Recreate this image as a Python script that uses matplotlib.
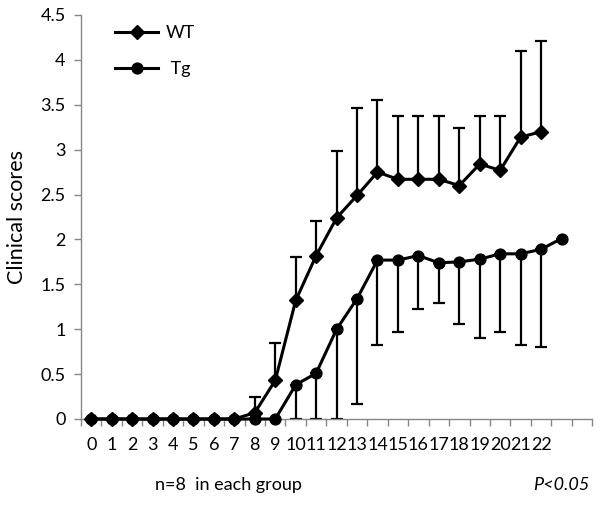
import numpy as np
import matplotlib
matplotlib.use("Agg")
from matplotlib import pyplot as plt

plt.rcParams['font.family'] = ['Lato', 'DejaVu Sans']

# days after immunisation (labels only to 22, Tg has one extra point)
days = list(range(23))
n_slots = 25

wt = [0, 0, 0, 0, 0, 0, 0, 0, 0.07, 0.43, 1.32, 1.82, 2.24, 2.49, 2.75,
      2.67, 2.67, 2.67, 2.60, 2.84, 2.77, 3.14, 3.20]
wt_top = [0, 0, 0, 0, 0, 0, 0, 0, 0.25, 0.85, 1.81, 2.21, 2.99, 3.46, 3.55,
          3.37, 3.37, 3.37, 3.24, 3.37, 3.37, 4.10, 4.21]

tg = [0, 0, 0, 0, 0, 0, 0, 0, 0, 0, 0.38, 0.51, 1.00, 1.34, 1.77, 1.77,
      1.82, 1.74, 1.75, 1.78, 1.84, 1.84, 1.89, 2.01]
tg_low = [0, 0, 0, 0, 0, 0, 0, 0, 0, 0, 0, 0, 0, 0.17, 0.82, 0.97,
          1.23, 1.29, 1.06, 0.90, 0.97, 0.82, 0.80, 2.01]

wt = np.array(wt)
tg = np.array(tg)
x_wt = np.arange(len(wt))
x_tg = np.arange(len(tg))

fig = plt.figure(figsize=(6, 5.05), dpi=100)
ax = fig.add_axes([0.135, 0.1703, 0.852, 0.80])

up = np.array(wt_top) - wt
ax.errorbar(x_wt, wt, yerr=[np.zeros_like(up), up], fmt='none', ecolor='black',
            elinewidth=1.6, capsize=4, capthick=1.6, zorder=2)
down = tg - np.array(tg_low)
ax.errorbar(x_tg, tg, yerr=[down, np.zeros_like(down)], fmt='none', ecolor='black',
            elinewidth=1.6, capsize=4, capthick=1.6, zorder=2)

ax.plot(x_wt, wt, color='black', lw=2.2, marker='D', ms=7.2, label='WT', zorder=3, clip_on=False)
ax.plot(x_tg, tg, color='black', lw=2.2, marker='o', ms=7.8, label=' Tg', zorder=3, clip_on=False)

ax.set_xlim(-0.5, n_slots - 0.5)
ax.set_ylim(0, 4.5)
ax.set_yticks(np.arange(0, 4.51, 0.5))
ax.set_yticklabels(['0', '0.5', '1', '1.5', '2', '2.5', '3', '3.5', '4', '4.5'])
ax.set_xticks(days)
ax.set_xticklabels([str(d) for d in days])
ax.set_xticks(np.arange(-0.5, n_slots, 1), minor=True)
ax.tick_params(axis='x', which='major', length=0, pad=13, labelsize=13)
ax.tick_params(axis='x', which='minor', length=5, color='#868686', width=1)
ax.tick_params(axis='y', length=5, color='#868686', width=1, labelsize=13, pad=6)

for s in ['top', 'right']:
    ax.spines[s].set_visible(False)
for s in ['left', 'bottom']:
    ax.spines[s].set_color('#868686')
    ax.spines[s].set_linewidth(1)

ax.set_ylabel('Clinical scores', fontsize=15.5, labelpad=10)

leg = ax.legend(loc='upper left', bbox_to_anchor=(0.035, 1.015), frameon=False,
                fontsize=13, handlelength=2.4, handletextpad=0.4, labelspacing=1.1)

fig.text(0.258, 0.03, 'n=8  in each group', fontsize=13)
fig.text(0.982, 0.03, 'P<0.05', fontsize=13, style='italic', ha='right')

fig.savefig('out.png', dpi=100)
